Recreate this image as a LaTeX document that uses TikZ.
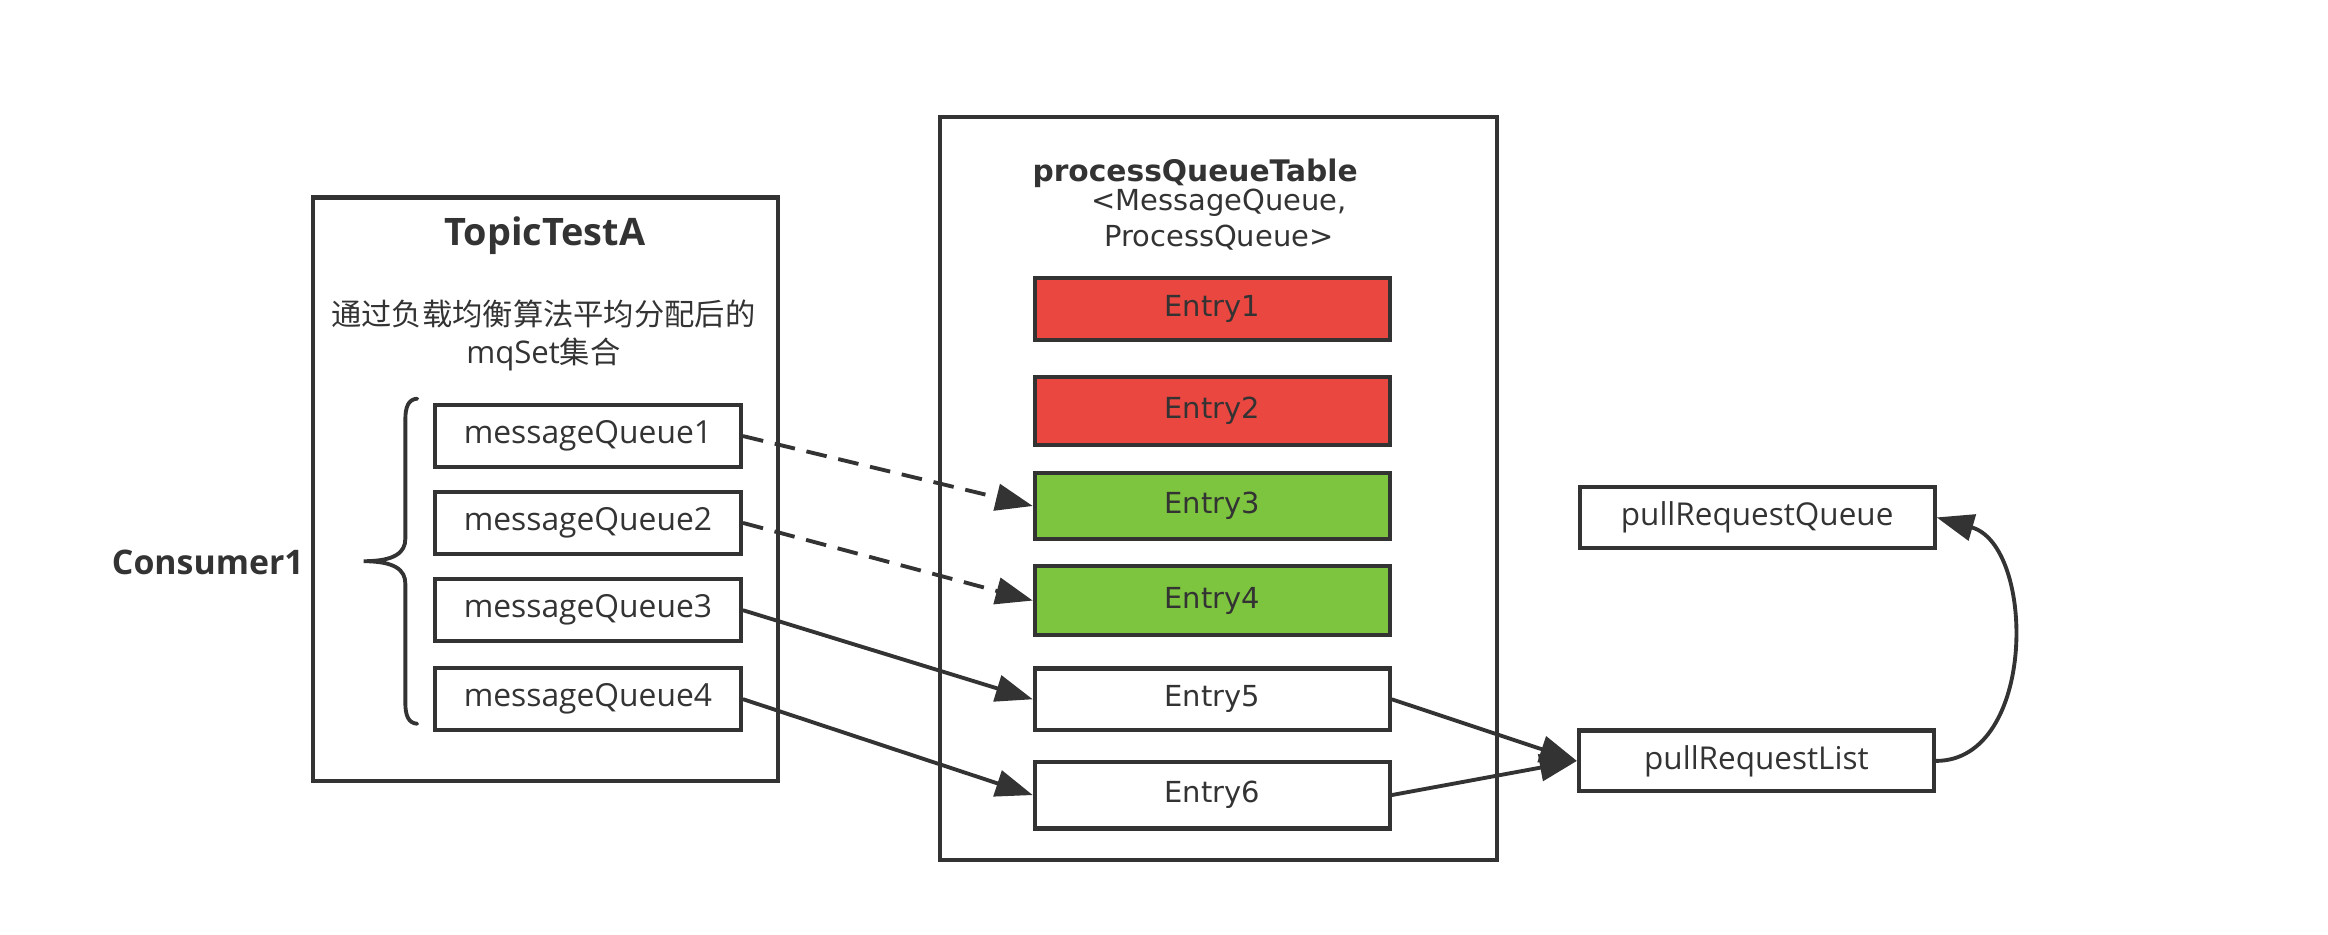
\documentclass[tikz,border=0pt]{standalone}
\usepackage{fontspec}
\setmainfont{Open Sans}
\newfontfamily\dvfont{DejaVu Sans}
\newfontfamily\cjk{Noto Sans CJK SC}
\usetikzlibrary{arrows.meta}
\definecolor{ln}{HTML}{333333}
\definecolor{redE}{HTML}{EA4741}
\definecolor{greenE}{HTML}{7DC43F}
\begin{document}
\begin{tikzpicture}[x=1pt,y=-1pt,
  box/.style={draw=ln, line width=2.8pt, inner sep=0pt, text=ln},
  mqbox/.style={box, minimum width=206pt, minimum height=41.5pt, font=\fontsize{21.4}{25}\selectfont},
  entrybox/.style={box, minimum width=239pt, font=\dvfont\fontsize{19.5}{23}\selectfont},
  prbox/.style={box, minimum width=239pt, minimum height=41pt, font=\fontsize{21.2}{25}\selectfont},
  lbl/.style={text=ln, inner sep=0pt},
  arr/.style={draw=ln, line width=2.6pt, -{Triangle[length=25pt,width=18pt]}},
  dasharr/.style={arr, dash pattern=on 14pt off 8pt}
]
\useasboundingbox (0,0) rectangle (1568,629.1);

% outer containers
\node[box, minimum width=313pt, minimum height=393pt] (topic) at (367.5,329.5) {};
\node[box, minimum width=375pt, minimum height=500pt] (ptable) at (820.5,329) {};

% TopicTestA contents
\node[lbl, font=\bfseries\fontsize{25.5}{30}\selectfont] (topictitle) at (367,159) {TopicTestA};
\node[lbl, align=center, font=\fontsize{21}{26}\selectfont] (topicdesc) at (366,226)
  {{\cjk\fontsize{20.4}{26}\selectfont 通过负载均衡算法平均分配后的}\\mqSet{\cjk\fontsize{20.4}{26}\selectfont 集合}};

\node[mqbox] (mq1) at (396,293.7) {messageQueue1};
\node[mqbox] (mq2) at (396,352.2) {messageQueue2};
\node[mqbox] (mq3) at (396,411) {messageQueue3};
\node[mqbox] (mq4) at (396,470.9) {messageQueue4};

% brace and consumer
\draw[draw=ln, line width=2.6pt, line cap=round]
  (281,268.5) .. controls (275,269) and (273,274) .. (273,283) -- (273,363)
  .. controls (273,372) and (266,378) .. (245,378)
  .. controls (266,378) and (273,384) .. (273,393) -- (273,473)
  .. controls (273,482) and (275,487) .. (281,487.5);
\node[lbl, font=\bfseries\fontsize{22.8}{27}\selectfont] (consumer) at (140,379) {Consumer1};

% processQueueTable contents
\node[lbl, font=\dvfont\bfseries\fontsize{20}{24}\selectfont] (pttitle) at (805,117) {processQueueTable};
\node[lbl, align=center, font=\dvfont\fontsize{19.5}{24}\selectfont] (ptsub) at (821,148)
  {<MessageQueue,\\ProcessQueue>};

\node[entrybox, fill=redE, minimum height=42pt] (e1) at (816.5,208.2) {Entry1};
\node[entrybox, fill=redE, minimum height=46pt] (e2) at (816.5,277) {Entry2};
\node[entrybox, fill=greenE, minimum height=44pt] (e3) at (816.5,340.8) {Entry3};
\node[entrybox, fill=greenE, minimum height=46pt] (e4) at (816.5,404.5) {Entry4};
\node[entrybox, fill=white, minimum height=41.5pt] (e5) at (816.5,471) {Entry5};
\node[entrybox, fill=white, minimum height=45pt] (e6) at (816.5,535.5) {Entry6};

% pull request nodes
\node[prbox] (prq) at (1183.5,348.5) {pullRequestQueue};
\node[prbox] (prl) at (1183,512.5) {pullRequestList};

% connectors
\draw[dasharr] (mq1.east) -- (e3.west);
\draw[dasharr] (mq2.east) -- (e4.west);
\draw[arr] (mq3.east) -- (e5.west);
\draw[arr] (mq4.east) -- (e6.west);
\draw[arr] (e5.east) -- (prl.west);
\draw[arr] (e6.east) -- (prl.west);
\draw[arr] (prl.east) .. controls +(68,0) and +(67,19) .. (prq.east);
\end{tikzpicture}
\end{document}
